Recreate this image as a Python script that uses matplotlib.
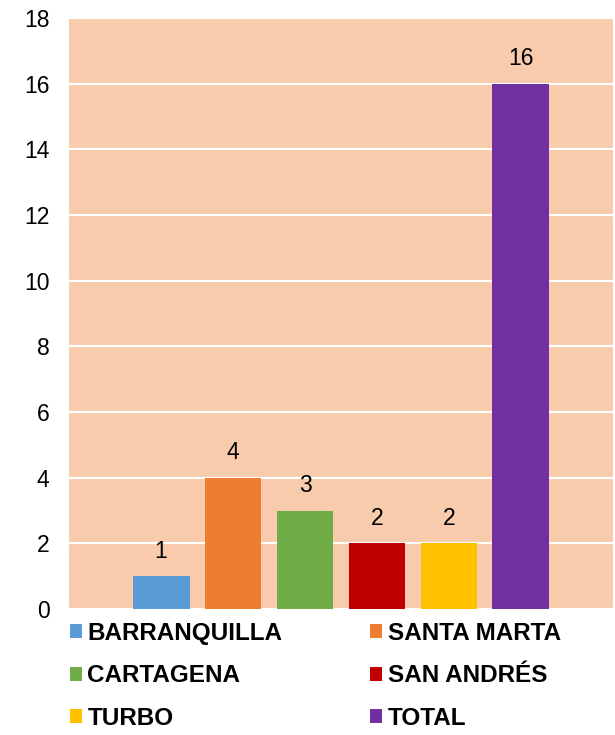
import matplotlib.pyplot as plt
from matplotlib.patches import Patch

# data
ciudades = ["BARRANQUILLA", "SANTA MARTA", "CARTAGENA", "SAN ANDRÉS", "TURBO", "TOTAL"]
valores = [1, 4, 3, 2, 2, 16]
colores = ["#5B9BD5", "#ED7D31", "#70AD47", "#C00000", "#FFC000", "#7030A0"]
y_ticks = [0, 2, 4, 6, 8, 10, 12, 14, 16, 18]

plt.rcParams['font.family'] = ['Liberation Sans', 'DejaVu Sans']

fig = plt.figure(figsize=(6.15, 7.35), dpi=100)
ax = fig.add_axes([69 / 615, 1 - 609 / 735, 544 / 615, 591 / 735])
ax.set_facecolor("#F8CBAD")

x = list(range(len(ciudades)))
bars = ax.bar(x, valores, width=0.79, color=colores, zorder=3)
for xi, v in zip(x, valores):
    ax.annotate(str(v), (xi, v), xytext=(0, 18), textcoords="offset points",
                ha="center", va="center", fontsize=16.5, zorder=4)

ax.set_xlim(-1.28, 6.28)
ax.set_ylim(0, 18)
ax.set_yticks(y_ticks)
ax.set_xticks([])
ax.tick_params(axis="y", length=0, pad=14, labelsize=16.5)
ax.grid(axis="y", color="white", linewidth=1.5, zorder=1)
for s in ax.spines.values():
    s.set_visible(False)

orden = [0, 2, 4, 1, 3, 5]
handles = [Patch(facecolor=colores[i], label=ciudades[i]) for i in orden]
fig.legend(handles=handles, loc="upper left", bbox_to_anchor=(70 / 615, 1 - 622 / 735),
           ncol=2, frameon=False, prop={"weight": "bold", "size": 17.5},
           handlelength=0.5, handleheight=0.5, handletextpad=0.22,
           columnspacing=3.6, labelspacing=0.8, borderpad=0, borderaxespad=0)

fig.savefig("out.png", dpi=100)
